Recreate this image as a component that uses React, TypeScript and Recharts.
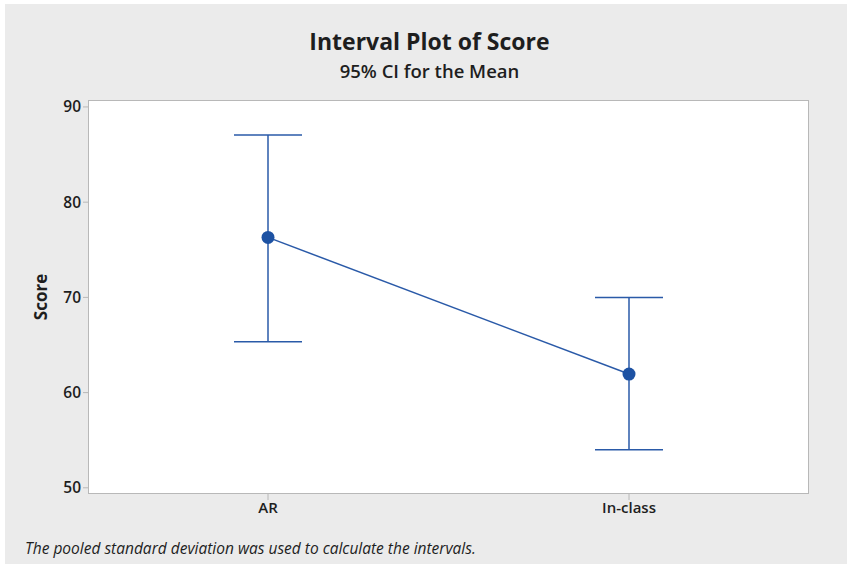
import { LineChart, Line, XAxis, YAxis, ErrorBar } from "recharts";

const groups = ["AR", "In-class"];
const means = [76.3, 61.95];
const lowerCI = [65.35, 54.0];
const upperCI = [87.05, 70.0];
const yTicks = [50, 60, 70, 80, 90];

const data = groups.map((g, i) => ({
  group: g,
  mean: means[i],
  ci: [means[i] - lowerCI[i], upperCI[i] - means[i]],
}));

const FONT = "'Open Sans', 'Noto Sans', sans-serif";
const BLUE = "#2a5aa8";

export default function App() {
  return (
    <div
      style={{
        position: "absolute",
        left: 0,
        top: 0,
        width: 847,
        height: 564,
        background: "#ffffff",
        fontFamily: FONT,
        overflow: "hidden",
      }}
    >
      <div
        style={{
          position: "absolute",
          left: 5,
          top: 4,
          right: 0,
          bottom: 0,
          background: "#ebebeb",
        }}
      />
      <div
        style={{
          position: "absolute",
          left: 88,
          top: 100,
          width: 719,
          height: 392,
          background: "#ffffff",
          border: "1.5px solid #b8b8b8",
        }}
      />
      <div
        style={{
          position: "absolute",
          left: 0,
          width: 847,
          top: 25,
          textAlign: "center",
          fontSize: 23,
          fontWeight: 700,
          color: "#1e1e1e",
          paddingLeft: 6,
        }}
      >
        Interval Plot of Score
      </div>
      <div
        style={{
          position: "absolute",
          left: 0,
          width: 847,
          top: 58,
          textAlign: "center",
          fontSize: 18.5,
          fontWeight: 600,
          color: "#1e1e1e",
          paddingLeft: 6,
        }}
      >
        95% CI for the Mean
      </div>
      <div
        style={{
          position: "absolute",
          left: 40,
          top: 297,
          transform: "translate(-50%, -50%) rotate(-90deg)",
          fontSize: 17,
          fontWeight: 700,
          color: "#1e1e1e",
          whiteSpace: "nowrap",
        }}
      >
        Score
      </div>
      <div
        style={{
          position: "absolute",
          left: 25,
          top: 537,
          fontSize: 15.5,
          fontStyle: "italic",
          color: "#1e1e1e",
          whiteSpace: "nowrap",
        }}
      >
        The pooled standard deviation was used to calculate the intervals.
      </div>
      <div style={{ position: "absolute", left: 0, top: 0 }}>
        <LineChart
          width={847}
          height={564}
          data={data}
          margin={{ top: 100, right: 38, bottom: 40, left: 28 }}
        >
          <XAxis
            dataKey="group"
            type="category"
            padding={{ left: 180, right: 180 }}
            axisLine={false}
            tickLine={{ stroke: "#b8b8b8" }}
            tickSize={6}
            height={30}
            tick={{ fill: "#1e1e1e", fontSize: 15, fontWeight: 600, fontFamily: FONT }}
          />
          <YAxis
            type="number"
            domain={[49.35, 90.73]}
            ticks={yTicks}
            allowDataOverflow
            axisLine={false}
            tickLine={{ stroke: "#b8b8b8" }}
            tickSize={5}
            width={60}
            tick={{ fill: "#1e1e1e", fontSize: 15.5, fontWeight: 600, fontFamily: FONT }}
          />
          <Line
            dataKey="mean"
            stroke={BLUE}
            strokeWidth={1.5}
            dot={{ r: 6.5, fill: "#1d52a3", stroke: "none" }}
            activeDot={false}
            isAnimationActive={false}
          >
            <ErrorBar
              dataKey="ci"
              direction="y"
              width={34}
              stroke={BLUE}
              strokeWidth={1.5}
            />
          </Line>
        </LineChart>
      </div>
    </div>
  );
}
